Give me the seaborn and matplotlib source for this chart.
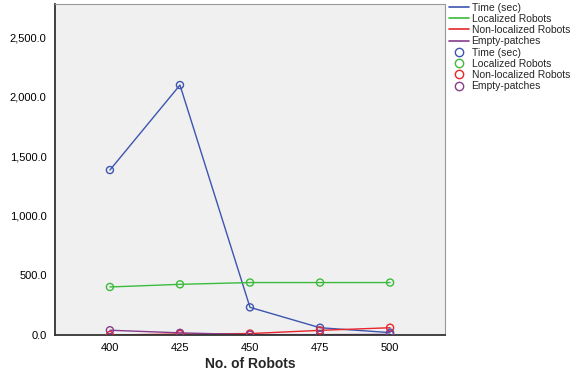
import matplotlib
matplotlib.use("Agg")
import matplotlib.pyplot as plt
import seaborn as sns
import pandas as pd
from matplotlib.lines import Line2D
from matplotlib.ticker import FuncFormatter

robots = [400, 425, 450, 475, 500]
time_sec = [1384, 2097, 232, 61, 20]
localized = [403, 425, 440, 440, 440]
non_localized = [0, 8, 12, 39, 61]
empty_patches = [40, 18, 3, 3, 5]

series_names = ["Time (sec)", "Localized Robots", "Non-localized Robots", "Empty-patches"]
series_values = [time_sec, localized, non_localized, empty_patches]
colors = ["#3D55B0", "#3CBB3C", "#E8262B", "#873C8C"]

sns.set_style("white")
plt.rcParams['font.family'] = ['Liberation Sans', 'DejaVu Sans']

fig = plt.figure(figsize=(5.75, 3.76), dpi=100)
ax = fig.add_axes([55/575, 41/376, 390/575, 331/376])
ax.set_facecolor("#F0F0F0")

for name, vals, c in zip(series_names, series_values, colors):
    df = pd.DataFrame({"x": robots, "y": vals})
    sns.lineplot(data=df, x="x", y="y", color=c, linewidth=1.0, ax=ax)
for name, vals, c in zip(series_names, series_values, colors):
    df = pd.DataFrame({"x": robots, "y": vals})
    sns.scatterplot(data=df, x="x", y="y", marker="o", s=26,
                    facecolors="none", edgecolor=c, linewidth=1.0, ax=ax, zorder=3)

ax.set_xlim(380.4, 519.6)
ax.set_ylim(0, 2777)
ax.set_xticks(robots)
ax.set_yticks([0, 500, 1000, 1500, 2000, 2500])
ax.yaxis.set_major_formatter(FuncFormatter(lambda v, p: f"{v:,.1f}"))
ax.tick_params(axis="both", direction="out", length=4, width=1, labelsize=8,
               colors="#333333", labelcolor="black", pad=2)
ax.tick_params(axis="x", pad=1.5)
for side in ["top", "right"]:
    ax.spines[side].set_color("#999999")
    ax.spines[side].set_linewidth(0.8)
for side in ["left", "bottom"]:
    ax.spines[side].set_color("#333333")
    ax.spines[side].set_linewidth(1.3)
ax.set_xlabel("No. of Robots", fontsize=10, fontweight="bold", labelpad=3)
ax.set_ylabel("")

handles = [Line2D([0], [0], color=c, lw=1.2) for c in colors]
handles += [Line2D([0], [0], color=c, lw=0, marker="o", markersize=6,
                   markerfacecolor="none", markeredgecolor=c) for c in colors]
labels = series_names + series_names
fig.legend(handles, labels, loc="upper left", bbox_to_anchor=(446/575, 1.0),
           frameon=False, fontsize=7.5, handlelength=2.0, handletextpad=0.2,
           labelspacing=0.12, borderaxespad=0.1, borderpad=0.15)

fig.savefig("out.png", dpi=100)
